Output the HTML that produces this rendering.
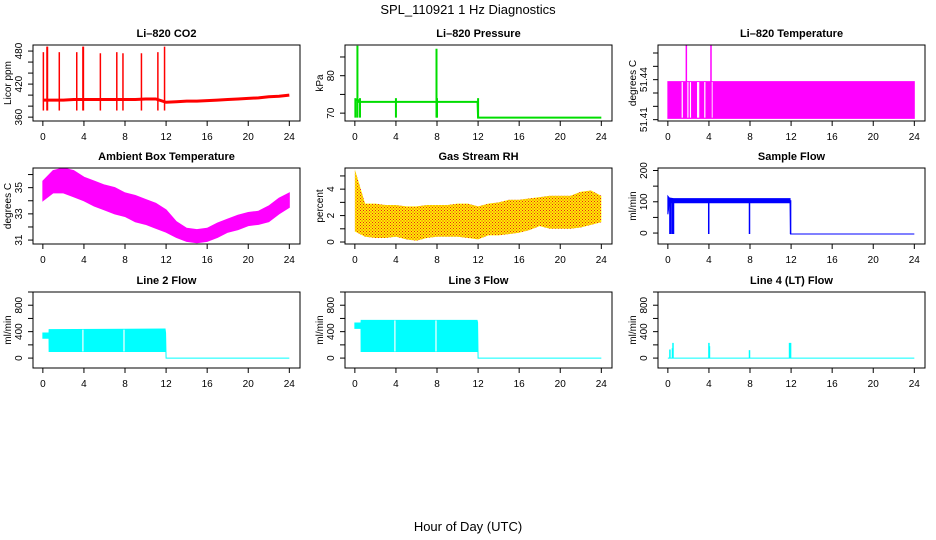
<!DOCTYPE html>
<html><head><meta charset="utf-8">
<style>
body{margin:0;background:#fff;}
svg{display:block;font-family:"Liberation Sans",sans-serif;}
</style></head>
<body>
<svg id="chart" width="936" height="540" viewBox="0 0 936 540" xmlns="http://www.w3.org/2000/svg">
<defs>
<pattern id="rhpat" width="3" height="3" patternUnits="userSpaceOnUse">
<rect width="3" height="3" fill="#ffee00"/><rect x="0" y="0" width="1" height="1" fill="#e8201c"/><rect x="1.5" y="1.5" width="1" height="1" fill="#e8201c"/>
</pattern>
</defs>
<text x="468" y="14" text-anchor="middle" font-size="13">SPL_110921  1 Hz Diagnostics</text>
<text x="468" y="531" text-anchor="middle" font-size="13">Hour of Day (UTC)</text>
</svg>
<script>
// ---- data ----
const hours = [0,1,2,3,4,5,6,7,8,9,10,11,12,13,14,15,16,17,18,19,20,21,22,23,24];
const co2Base = [391,391,391,392,392,392,392,392,392,392,393,393,387,388,389,389,390,391,392,393,394,395,397,398,400];
const co2SpikeT = [0.05,0.4,0.45,1.6,3.3,3.9,3.95,5.6,7.2,7.8,9.6,11.2,11.85];
const co2SpikeV = [478,488,488,478,478,488,488,476,478,476,476,478,488];
const presT = [0,0.3,0.35,4,4.05,8,8.05,11.95,12,24];
const presV = [73.5,73.5,73,73,73,73,73,73,68.8,68.8];
const presDipT = [0.05,0.5,4,8,12];
const presSpikeT = [0.25,7.95];
const presSpikeV = [88,87.2];
const tempLow = 51.411;
const tempHigh = 51.4385;
const tempGapT = [1.4,1.95,2.2,2.9,3.0,3.6,4.3];
const tempSpikeT = [1.8,4.2];
const tempSpikeV = [51.466,51.466];
const ambHigh = [35.5,36.3,36.5,36.3,35.8,35.5,35.2,35.0,34.6,34.4,34.1,33.8,33.3,32.4,31.9,31.8,31.9,32.3,32.6,32.9,33.1,33.2,33.6,34.2,34.6];
const ambLow = [34.0,34.6,34.6,34.3,34.0,33.6,33.3,33.0,32.8,32.4,32.2,31.9,31.6,31.2,30.9,30.8,30.9,31.2,31.6,31.8,32.1,32.2,32.4,33.0,33.5];
const rhHigh = [5.5,2.9,2.9,2.8,2.8,2.7,2.7,2.8,2.8,2.8,2.9,2.9,2.7,2.9,3.0,3.2,3.2,3.3,3.4,3.5,3.5,3.5,3.8,3.9,3.5];
const rhLow = [0.8,0.4,0.3,0.3,0.4,0.2,0.1,0.3,0.4,0.4,0.4,0.3,0.2,0.5,0.5,0.6,0.7,0.9,1.2,1.0,1.0,1.0,1.1,1.3,1.5];
const sampleT = [0,0.15,0.55,11.9,11.95,24];
const sampleLow = [60,97,97,97,-3,-3];
const sampleHigh = [118,112,110,110,-3,-3];
const sampleDipT = [0.2,0.3,0.45,0.55,3.98,7.95,11.95];
const line2T = [0,0.6,0.61,11.9,11.95,12,24];
const line2Low = [300,300,100,100,350,0,0];
const line2High = [380,380,430,440,380,0,0];
const line3T = [0,0.6,0.61,11.9,11.95,12,24];
const line3Low = [450,450,100,100,450,0,0];
const line3High = [530,530,570,570,540,0,0];
const line3GapT = [3.9,7.9];
const line4SpikeT = [0.2,0.45,0.5,4.0,4.05,7.95,11.85,11.95];
const line4SpikeV = [130,150,230,230,180,120,230,230];

// ---- layout ----
const NS = "http://www.w3.org/2000/svg";
const svg = document.getElementById("chart");
const XL = [-0.96, 25.04];
function mk(tag, attrs, parent){const e=document.createElementNS(NS,tag);for(const k in attrs)e.setAttribute(k,attrs[k]);(parent||svg).appendChild(e);return e;}

function panel(name, title, ylab, bx, by, ylim, ticks, labels){
  const W=267,H=76;
  const g=mk("g",{});
  
  
  const sx=v=>bx+(v-XL[0])/(XL[1]-XL[0])*W;
  const sy=v=>by+H-(v-ylim[0])/(ylim[1]-ylim[0])*H;
  const t=mk("text",{x:bx+W/2,y:by-8,"text-anchor":"middle","font-size":"11","font-weight":"bold"},g);
  t.textContent=title;
  
  
  const yl=mk("text",{x:0,y:0,"text-anchor":"middle","font-size":"10",transform:`translate(${bx-22},${by+H/2}) rotate(-90)`},g);
  yl.textContent=ylab;
  
  
  const xa=mk("g",{},g);
  
  
  mk("line",{x1:sx(0),x2:sx(24),y1:by+H,y2:by+H,stroke:"#000"},xa);
  for(let h=0;h<=24;h+=4){
    mk("line",{x1:sx(h),x2:sx(h),y1:by+H,y2:by+H+5,stroke:"#000"},xa);
    const tl=mk("text",{x:sx(h),y:by+H+19,"text-anchor":"middle","font-size":"10"},xa);
    tl.textContent=h;
    
    
  }
  const ya=mk("g",{},g);
  
  
  for(const v of ticks){mk("line",{x1:bx-5,x2:bx,y1:sy(v),y2:sy(v),stroke:"#000"},ya);}
  for(const v of labels){
    const tl=mk("text",{x:0,y:0,"text-anchor":"middle","font-size":"10",transform:`translate(${bx-11},${sy(v)}) rotate(-90)`},ya);
    tl.textContent=v;
    
    
  }
  const plot=mk("g",{},g);
  
  
  const box=mk("rect",{x:bx,y:by,width:W,height:H,fill:"none",stroke:"#000"},g);
  
  
  return {sx,sy,plot};
}
function band(p,ts,lo,hi,fill,name){
  let d="";
  ts.forEach((t,i)=>{d+=(i?"L":"M")+p.sx(t)+","+p.sy(hi[i]);});
  for(let i=ts.length-1;i>=0;i--) d+="L"+p.sx(ts[i])+","+p.sy(lo[i]);
  const e=mk("path",{d:d+"Z",fill:fill,stroke:fill==="url(#rhpat)"?"none":fill,"stroke-width":"1"},p.plot);
  
  
}
function vline(p,t,v0,v1,col,w,name){
  const e=mk("line",{x1:p.sx(t),x2:p.sx(t),y1:p.sy(v0),y2:p.sy(v1),stroke:col,"stroke-width":w},p.plot);
  
  
}
function pline(p,ts,vs,col,w,name){
  const e=mk("polyline",{points:ts.map((t,i)=>p.sx(t)+","+p.sy(vs[i])).join(" "),fill:"none",stroke:col,"stroke-width":w},p.plot);
  
  
}

const cols=[33,345,658], rows=[45,168,292];

p=panel("co2","Li\u2013820 CO2","Licor ppm",cols[0],rows[0],[353,491],[360,380,400,420,440,460,480],[360,420,480]);
pline(p,hours,co2Base,"#ff0000",3,"co2-line");
co2SpikeT.forEach((t,i)=>vline(p,t,372,co2SpikeV[i],"#ff0000",1.5,"co2-spike"));
p=panel("pressure","Li\u2013820 Pressure","kPa",cols[1],rows[0],[67.9,88.2],[70,75,80,85],[70,80]);
pline(p,presT,presV,"#00dd00",2,"pressure-line");
presDipT.forEach(t=>vline(p,t,68.8,74,"#00dd00",2,"pressure-dip"));
presSpikeT.forEach((t,i)=>vline(p,t,68.8,presSpikeV[i],"#00dd00",2,"pressure-spike"));
p=panel("li820-temp","Li\u2013820 Temperature","degrees C",cols[2],rows[0],[51.409,51.466],[51.41,51.42,51.43,51.44,51.45,51.46],[51.41,51.44]);
band(p,[0,24],[tempLow,tempLow],[tempHigh,tempHigh],"#ff00ff","temp-band");
tempGapT.forEach(t=>vline(p,t,tempLow+0.0005,tempHigh-0.0003,"#ffffff",1.2,"temp-gap"));
tempSpikeT.forEach((t,i)=>vline(p,t,tempLow,tempSpikeV[i],"#ff00ff",1.5,"temp-spike"));
p=panel("ambient","Ambient Box Temperature","degrees C",cols[0],rows[1],[30.7,36.5],[31,32,33,34,35,36],[31,33,35]);
band(p,hours,ambLow,ambHigh,"#ff00ff","ambient-band");
p=panel("rh","Gas Stream RH","percent",cols[1],rows[1],[-0.15,5.6],[0,1,2,3,4,5],[0,2,4]);
band(p,hours,rhLow,rhHigh,"url(#rhpat)","rh-band");
p=panel("sample-flow","Sample Flow","ml/min",cols[2],rows[1],[-35,208],[0,50,100,150,200],[0,100,200]);
band(p,sampleT,sampleLow,sampleHigh,"#0000ff","sample-band");
sampleDipT.forEach(t=>vline(p,t,-3,105,"#0000ff",1.5,"sample-dip"));
p=panel("line2","Line 2 Flow","ml/min",cols[0],rows[2],[-150,1000],[0,200,400,600,800,1000],[0,400,800]);
band(p,line2T,line2Low,line2High,"#00ffff","line2-band");
[3.9,7.9].forEach(t=>vline(p,t,100,430,"#ffffff",1.2,"line2-gap"));
p=panel("line3","Line 3 Flow","ml/min",cols[1],rows[2],[-150,1000],[0,200,400,600,800,1000],[0,400,800]);
band(p,line3T,line3Low,line3High,"#00ffff","line3-band");
line3GapT.forEach(t=>vline(p,t,100,570,"#ffffff",1.2,"line3-gap"));
p=panel("line4","Line 4 (LT) Flow","ml/min",cols[2],rows[2],[-150,1000],[0,200,400,600,800,1000],[0,400,800]);
pline(p,[0,24],[0,0],"#00ffff",1,"line4-baseline");
line4SpikeT.forEach((t,i)=>vline(p,t,0,line4SpikeV[i],"#00ffff",1.5,"line4-spike"));
</script>
</body></html>
